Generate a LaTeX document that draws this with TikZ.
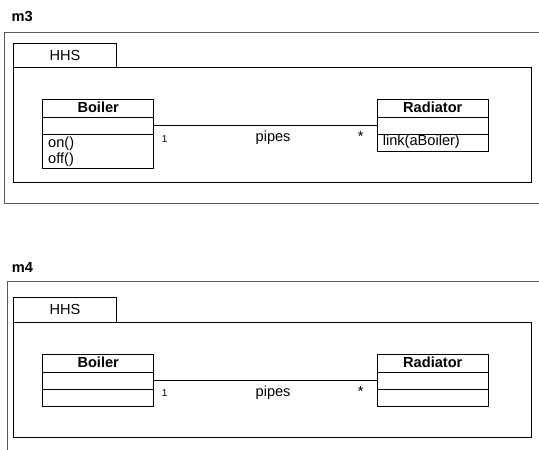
\documentclass[tikz,border=0pt]{standalone}
\usepackage{fontspec}
\setmainfont{Liberation Sans}
\usetikzlibrary{positioning}

\tikzset{
  outerframe/.style={line width=0.8pt, black!65},
  pkg/.style={draw, line width=0.9pt, inner sep=0pt, outer sep=0pt},
  part/.style={draw, line width=0.9pt, minimum width=111pt, minimum height=17.4pt,
    inner sep=0pt, outer sep=0pt},
  classtitle/.style={part, text depth=2.5pt, font=\fontsize{14.6}{16}\selectfont\bfseries},
  opspart/.style={part, text width=100pt, align=left},
  mult/.style={font=\fontsize{10}{12}\selectfont, anchor=base}
}

\begin{document}
\begin{tikzpicture}[x=1pt, y=-1pt, font=\fontsize{14.6}{16}\selectfont]
  \useasboundingbox (0,0) rectangle (539,450);

  % Model m3
  \node[anchor=base west, font=\fontsize{14.6}{16}\selectfont\bfseries] (m3) at (8,21.3) {m3};
  \draw[outerframe] (539,32) -- (4,32) -- (4,203) -- (539,203);
  \node[pkg, minimum width=103.4pt, minimum height=23.3pt] (hhs3) at (65,55.35) {HHS};
  \node[pkg, anchor=north west, minimum width=517.7pt, minimum height=115.7pt] (body3) at (hhs3.south west) {};
  % Classes
  \node[classtitle, minimum height=18pt] (boiler3) at (98.2,108) {Boiler};
  \node[part, below=0pt of boiler3] (boiler3attr) {};
  \node[opspart, below=0pt of boiler3attr, minimum height=34pt] (boiler3ops) {on()\\off()};
  \node[classtitle, minimum height=18pt] (radiator3) at (432.8,108) {Radiator};
  \node[part, below=0pt of radiator3] (radiator3attr) {};
  \node[opspart, below=0pt of radiator3attr, minimum height=16.7pt, text depth=4.5pt] (radiator3ops) {link(aBoiler)};
  % Association
  \draw[line width=0.9pt] (boiler3attr.east)
    -- node[mult, pos=0.049, yshift=-16.6pt] {1}
       node[anchor=base, pos=0.534, yshift=-15.3pt] {pipes}
       node[anchor=base, pos=0.926, yshift=-15.3pt] {*}
    (radiator3attr.west);

  % Model m4
  \node[anchor=base west, font=\fontsize{14.6}{16}\selectfont\bfseries] (m4) at (8.3,272) {m4};
  \draw[outerframe] (539,281.3) -- (7.3,281.3) -- (7.3,450);
  \node[pkg, minimum width=103.4pt, minimum height=25pt] (hhs4) at (65,309.5) {HHS};
  \node[pkg, anchor=north west, minimum width=517.7pt, minimum height=115.7pt] (body4) at (hhs4.south west) {};
  % Classes
  \node[classtitle] (boiler4) at (98.2,363.3) {Boiler};
  \node[part, below=0pt of boiler4] (boiler4attr) {};
  \node[part, below=0pt of boiler4attr, minimum height=16.7pt] (boiler4ops) {};
  \node[classtitle] (radiator4) at (432.8,363.3) {Radiator};
  \node[part, below=0pt of radiator4] (radiator4attr) {};
  \node[part, below=0pt of radiator4attr, minimum height=16.7pt] (radiator4ops) {};
  % Association
  \draw[line width=0.9pt] (boiler4attr.east)
    -- node[mult, pos=0.049, yshift=-16.2pt] {1}
       node[anchor=base, pos=0.534, yshift=-15.3pt] {pipes}
       node[anchor=base, pos=0.926, yshift=-15.3pt] {*}
    (radiator4attr.west);
\end{tikzpicture}
\end{document}
